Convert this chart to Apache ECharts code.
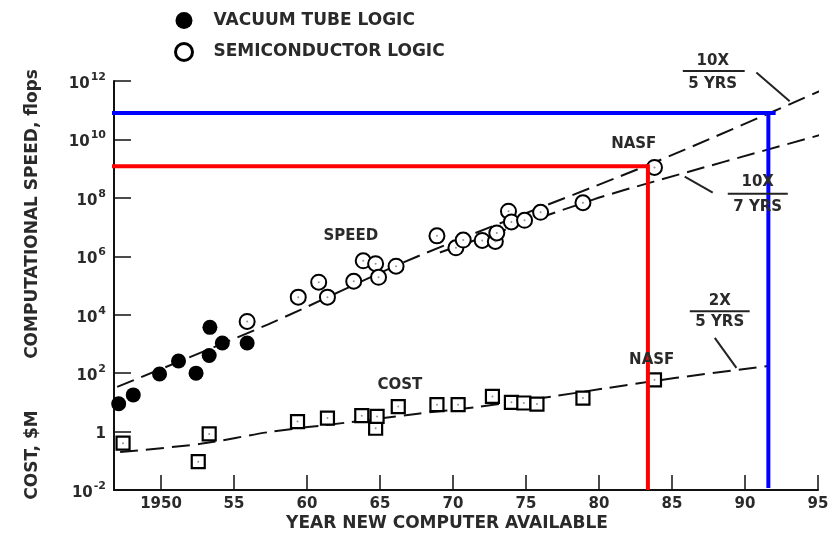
<!DOCTYPE html>
<html><head><meta charset="utf-8">
<script src="https://cdn.jsdelivr.net/npm/echarts@6/dist/echarts.min.js"></script>
<style>html,body{margin:0;padding:0;background:#fff}#c{width:839px;height:537px}</style>
</head><body><div id="c"></div>
<script>
// ---- data (years, values in flops / $M) ----
const vacuumYears = [1947.1, 1948.1, 1949.9, 1951.2, 1952.4, 1953.3, 1953.35, 1954.2, 1955.9];
const vacuumSpeed = [9, 18, 93, 260, 100, 400, 3700, 1070, 1070];

const semiYears = [1955.9, 1959.4, 1960.8, 1961.4, 1963.2, 1963.85, 1964.7, 1964.9, 1966.1, 1968.9, 1970.2, 1970.7, 1972.0, 1972.9, 1973.0, 1973.8, 1974.0, 1974.9, 1976.0, 1978.9, 1983.8];
const semiSpeed = [5900, 4e4, 1.3e5, 4e4, 1.4e5, 7e5, 5.6e5, 1.9e5, 4.6e5, 5e6, 1.95e6, 3.6e6, 3.5e6, 3.2e6, 6.3e6, 3.5e7, 1.5e7, 1.7e7, 3.2e7, 6.8e7, 1.1e9];

const costYears = [1947.4, 1952.55, 1953.3, 1959.35, 1961.4, 1963.75, 1964.7, 1964.8, 1966.25, 1968.9, 1970.35, 1972.7, 1974.0, 1974.85, 1975.75, 1978.9, 1983.8];
const costValues = [0.4, 0.093, 0.83, 2.2, 2.9, 3.5, 1.3, 3.3, 7.2, 8.3, 8.3, 16, 10, 9.5, 8.7, 14, 59];

// trend lines
const trend5Years = [1947.0, 1957.3, 1967.4, 1983.75, 1996.3];
const trend5Speed = [34, 4600, 9.1e5, 1.6e9, 8.2e11];
const trend7Years = [1969.1, 1979.6, 1983.75, 1995.1];
const trend7Speed = [1.35e6, 8.7e7, 3.6e8, 1.4e10];
const costTrendYears = [1947.2, 1952.7, 1957.5, 1962.6, 1967.6, 1971.6, 1977.2, 1980.4, 1985.3, 1991.7];
const costTrendValues = [0.2, 0.38, 0.98, 2.0, 4.1, 6.9, 17, 30, 69, 178];

// highlight lines
const redYears = [1946.37, 1983.35, 1983.35];
const redValues = [1.2e9, 1.2e9, 0.01];
const blueHYears = [1946.5, 1992.1];
const blueHValues = [8.1e10, 8.1e10];
const blueVYears = [1991.6, 1991.6];
const blueVValues = [8.1e10, 0.0117];

// axis ticks
const xTickYears = [1950, 1955, 1960, 1965, 1970, 1975, 1980, 1985, 1990, 1995];

// annotations: [text, year, log10 value]
const annotTexts = [
  ['SPEED', 1963.0, 6.68],
  ['COST', 1966.36, 1.60],
  ['NASF', 1982.38, 9.83],
  ['NASF', 1983.61, 2.46],
  ['10X', 1987.79, 12.69], ['5 YRS', 1987.79, 11.89],
  ['10X', 1990.87, 8.53], ['7 YRS', 1990.87, 7.67],
  ['2X', 1988.27, 4.46], ['5 YRS', 1988.27, 3.73]
];
// annotation strokes: [year1, log1, year2, log2]
const annotStrokes = [
  [1985.74, 12.34, 1989.98, 12.34],
  [1988.82, 8.14, 1992.93, 8.14],
  [1986.22, 4.12, 1990.32, 4.12],
  [1990.78, 12.29, 1993.06, 11.31],
  [1985.87, 8.73, 1987.79, 8.18],
  [1987.93, 3.21, 1989.41, 2.18]
];

const FONT = 'DejaVu Sans, Liberation Sans, sans-serif';
const INK = '#2a2a2a';
const L = Math.log10;
const pts = (xs, vs) => xs.map((x, i) => [x, L(vs[i])]);

const chart = echarts.init(document.getElementById('c'), null, {renderer: 'canvas'});
const dashStyle = {color: '#111', width: 2, type: [18, 8]};

const option = {
  animation: false,
  backgroundColor: '#fff',
  legend: {
    orient: 'vertical', left: 169, top: 7, itemWidth: 17, itemHeight: 17, itemGap: 13,
    textStyle: {fontFamily: FONT, fontWeight: 'bold', fontSize: 17, color: INK, padding: [0, 0, 0, 16]},
    data: [
      {name: 'VACUUM TUBE LOGIC', icon: 'circle', itemStyle: {color: '#000', borderWidth: 0}},
      {name: 'SEMICONDUCTOR LOGIC', icon: 'circle', itemStyle: {color: '#fff', borderColor: '#000', borderWidth: 3}}
    ]
  },
  grid: {left: 114, right: 21, top: 81, bottom: 47},
  xAxis: {
    type: 'value', min: 1946.78, max: 1995,
    axisLine: {onZero: false, lineStyle: {color: '#111', width: 2}},
    axisTick: {inside: true, length: 15, lineStyle: {color: '#111', width: 1.5}, customValues: xTickYears},
    axisLabel: {customValues: xTickYears, fontFamily: FONT, fontWeight: 'bold', fontSize: 15, color: INK, margin: 7,
      formatter: v => v === 1950 ? '1950' : String(v).slice(2)},
    splitLine: {show: false}
  },
  yAxis: {
    type: 'value', min: -2, max: 12, interval: 2,
    axisLine: {show: true, onZero: false, lineStyle: {color: '#111', width: 2}},
    axisTick: {show: true, inside: true, length: 17, lineStyle: {color: '#111', width: 1.5}},
    axisLabel: {
      margin: 8, fontFamily: FONT,
      formatter: v => v === 0 ? '{b|1}' : '{b|10}{s|' + (v < 0 ? '-' + (-v) : v) + '}',
      rich: {
        b: {fontFamily: FONT, fontWeight: 'bold', fontSize: 15, color: INK, padding: [6, 0, 0, 0]},
        s: {fontFamily: FONT, fontWeight: 'bold', fontSize: 11, color: INK, padding: [0, 0, 8, 1]}
      }
    },
    splitLine: {show: false}
  },
  series: [
    {type: 'line', name: 'trend5', data: pts(trend5Years, trend5Speed), smooth: 0.3, showSymbol: false, symbol: 'none', clip: false, silent: true, lineStyle: dashStyle, z: 1},
    {type: 'line', name: 'trend7', data: pts(trend7Years, trend7Speed), smooth: 0.3, showSymbol: false, symbol: 'none', clip: false, silent: true, lineStyle: dashStyle, z: 1},
    {type: 'line', name: 'costTrend', data: pts(costTrendYears, costTrendValues), smooth: 0.3, showSymbol: false, symbol: 'none', clip: false, silent: true, lineStyle: dashStyle, z: 1},
    {type: 'scatter', name: 'VACUUM TUBE LOGIC', data: pts(vacuumYears, vacuumSpeed), symbol: 'circle', symbolSize: 15,
      itemStyle: {color: '#000', opacity: 1}, z: 3, clip: false},
    {type: 'scatter', name: 'SEMICONDUCTOR LOGIC', data: pts(semiYears, semiSpeed), symbol: 'circle', symbolSize: 15,
      itemStyle: {color: '#fff', borderColor: '#000', borderWidth: 2, opacity: 1}, z: 3, clip: false},
    {type: 'scatter', name: 'COST', data: pts(costYears, costValues), symbol: 'rect', symbolSize: 13,
      itemStyle: {color: '#fff', borderColor: '#000', borderWidth: 2.2, opacity: 1}, z: 3, clip: false},
    {type: 'scatter', name: 'dots1', data: pts(semiYears, semiSpeed), symbol: 'circle', symbolSize: 2, itemStyle: {color: '#777'}, z: 4, silent: true},
    {type: 'scatter', name: 'dots2', data: pts(costYears, costValues), symbol: 'circle', symbolSize: 2, itemStyle: {color: '#777'}, z: 4, silent: true},
    {type: 'line', name: 'red', data: pts(redYears, redValues), showSymbol: false, symbol: 'none', clip: false, silent: true,
      lineStyle: {color: '#ff0000', width: 4, join: 'miter', cap: 'butt'}, z: 6},
    {type: 'line', name: 'blueH', data: pts(blueHYears, blueHValues), showSymbol: false, symbol: 'none', clip: false, silent: true,
      lineStyle: {color: '#0000ff', width: 4}, z: 6},
    {type: 'line', name: 'blueV', data: pts(blueVYears, blueVValues), showSymbol: false, symbol: 'none', clip: false, silent: true,
      lineStyle: {color: '#0000ff', width: 4}, z: 6}
  ]
};
chart.setOption(option);

const toPx = (x, e) => chart.convertToPixel({gridIndex: 0}, [x, e]);
const graphics = [];
annotTexts.forEach(([t, x, e]) => {
  const p = toPx(x, e);
  graphics.push({type: 'text', x: p[0], y: p[1], z: 10,
    style: {text: t, fontFamily: FONT, fontWeight: 'bold', fontSize: 15, fill: INK, align: 'center', verticalAlign: 'middle'}});
});
annotStrokes.forEach(([x1, e1, x2, e2]) => {
  const a = toPx(x1, e1), b = toPx(x2, e2);
  graphics.push({type: 'line', z: 10, shape: {x1: a[0], y1: a[1], x2: b[0], y2: b[1]}, style: {stroke: '#222', lineWidth: 2}});
});
// axis titles
graphics.push({type: 'text', x: 33, y: 214, rotation: Math.PI / 2, z: 10,
  style: {text: 'COMPUTATIONAL SPEED, flops', fontFamily: FONT, fontWeight: 'bold', fontSize: 17, fill: INK, align: 'center', verticalAlign: 'middle'}});
graphics.push({type: 'text', x: 33, y: 455, rotation: Math.PI / 2, z: 10,
  style: {text: 'COST, $M', fontFamily: FONT, fontWeight: 'bold', fontSize: 17, fill: INK, align: 'center', verticalAlign: 'middle'}});
graphics.push({type: 'text', x: 447, y: 524, z: 10,
  style: {text: 'YEAR NEW COMPUTER AVAILABLE', fontFamily: FONT, fontWeight: 'bold', fontSize: 17, fill: INK, align: 'center', verticalAlign: 'middle'}});
chart.setOption({graphic: graphics});
</script></body></html>
